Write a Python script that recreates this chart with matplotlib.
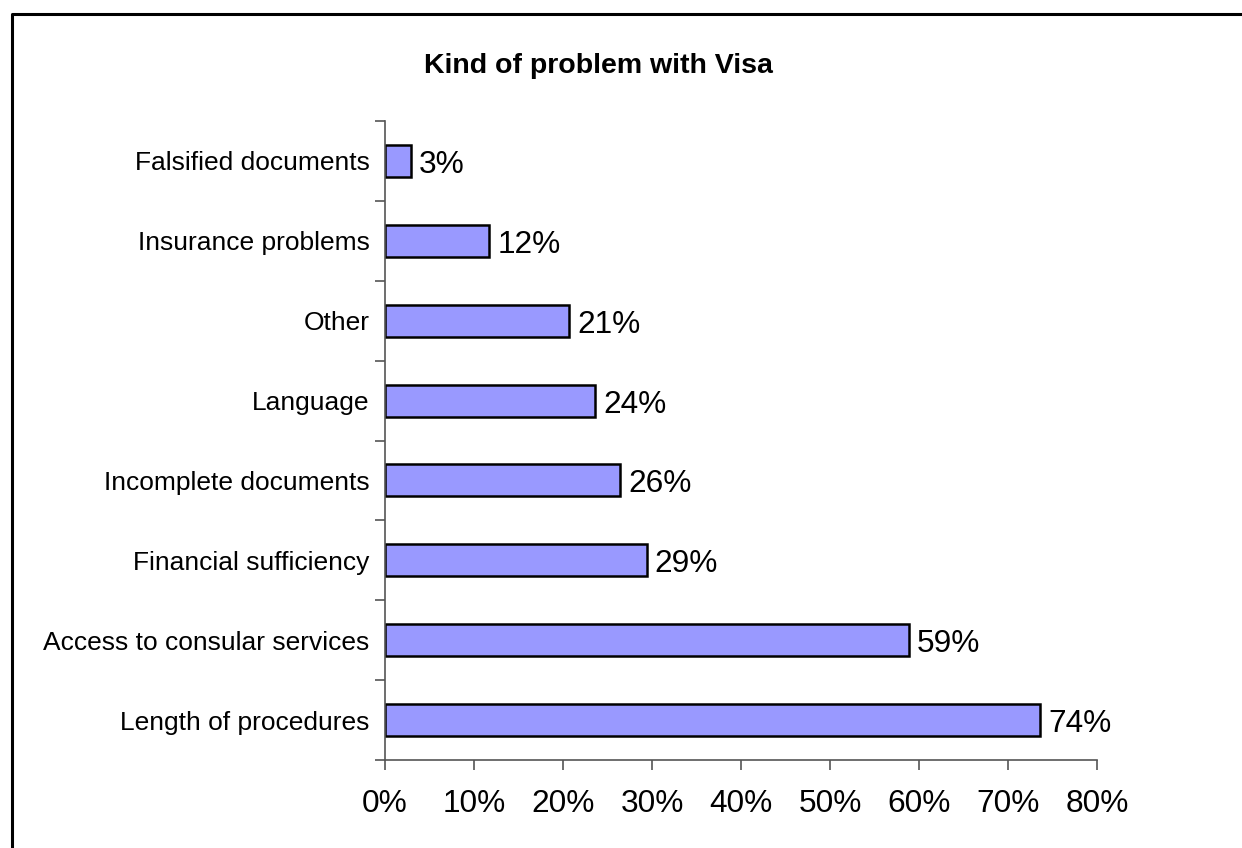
import matplotlib.pyplot as plt
from matplotlib.lines import Line2D

# donnees
categories = ['Length of procedures', 'Access to consular services', 'Financial sufficiency',
              'Incomplete documents', 'Language', 'Other', 'Insurance problems', 'Falsified documents']
valeurs = [73.6, 58.9, 29.4, 26.4, 23.6, 20.7, 11.7, 2.9]
ticks_x = [0, 10, 20, 30, 40, 50, 60, 70, 80]
titre = 'Kind of problem with Visa'

plt.rcParams['font.family'] = ['Liberation Sans', 'DejaVu Sans']

W, H = 1242, 848
fig = plt.figure(figsize=(W / 100, H / 100), dpi=100)
ax = fig.add_axes([385 / W, 1 - 760 / H, (1097 - 385) / W, (760 - 121) / H])

y = list(range(len(categories)))
ax.barh(y, valeurs, height=0.4, color='#9999ff', edgecolor='black', linewidth=1.8)

for yi, v in zip(y, valeurs):
    ax.text(v + 0.9, yi - 0.05, f'{v:.0f}%', va='center', ha='left', fontsize=22.8)

ax.set_xlim(0, 80)
ax.set_ylim(-0.5, len(categories) - 0.5)
ax.set_xticks(ticks_x)
ax.set_xticklabels([f'{t}%' for t in ticks_x], fontsize=22.8)
ax.set_yticks(y)
ax.set_yticklabels(categories, fontsize=19)
ax.set_yticks([i - 0.5 for i in range(len(categories) + 1)], minor=True)

ax.tick_params(axis='y', which='major', length=0, pad=11)
ax.tick_params(axis='y', which='minor', length=7, color='#555555', width=1.2)
ax.tick_params(axis='x', length=7, color='#555555', width=1.2, pad=14)

for s in ['top', 'right']:
    ax.spines[s].set_visible(False)
for s in ['left', 'bottom']:
    ax.spines[s].set_color('#555555')
    ax.spines[s].set_linewidth(1.2)

fig.text(598 / W, 1 - 66 / H, titre, ha='center', va='center', fontsize=20.5, fontweight='bold')

# cadre
fig.add_artist(Line2D([12 / W, 12 / W, 1.0], [0.0, 1 - 14 / H, 1 - 14 / H],
                      transform=fig.transFigure, color='black', linewidth=2.2))

fig.savefig('out.png', dpi=100)
